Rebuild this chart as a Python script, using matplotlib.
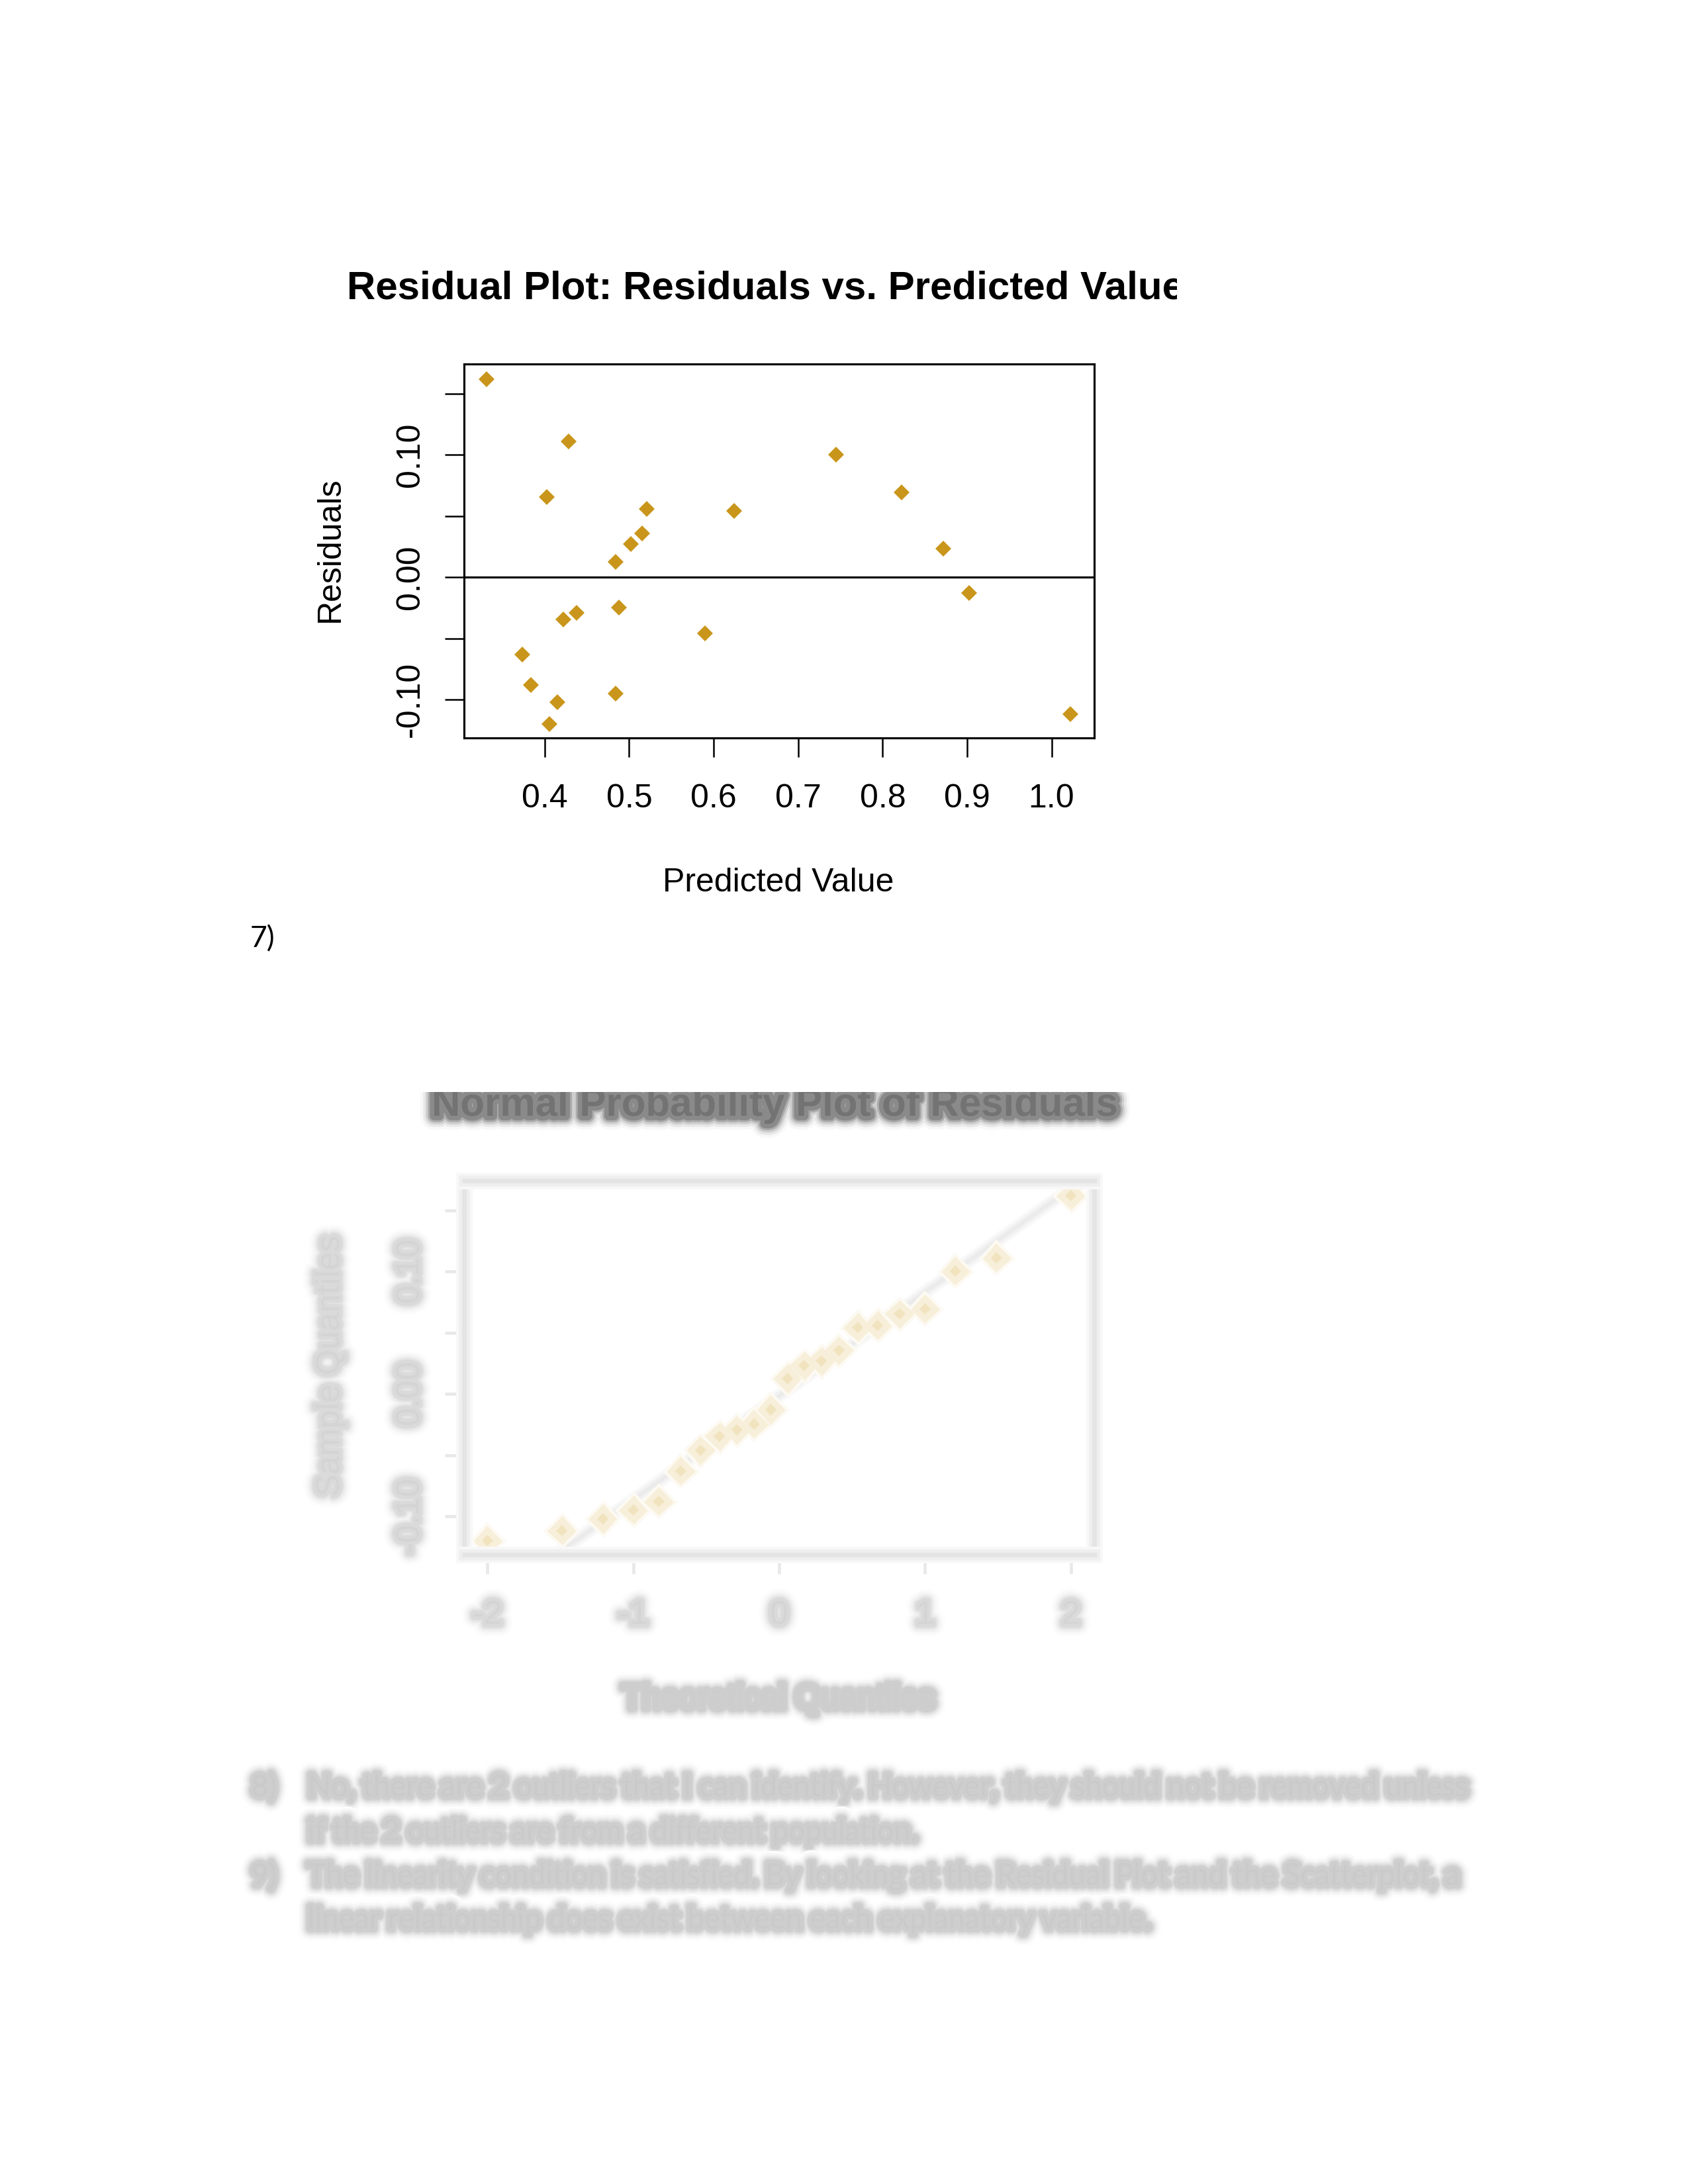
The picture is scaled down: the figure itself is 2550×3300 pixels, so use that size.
import numpy as np
import matplotlib
matplotlib.use("Agg")
import matplotlib.pyplot as plt
import matplotlib.patheffects as pe
from matplotlib.transforms import Bbox, TransformedBbox

# ---------------- data ----------------
predicted = [0.3315, 0.4285, 0.4027, 0.7450, 0.8222, 0.5210, 0.6243, 0.5156,
             0.5020, 0.4838, 0.8719, 0.9027, 0.4877, 0.4381, 0.4222, 0.5900,
             0.3736, 0.3835, 0.4838, 0.4150, 0.4057, 1.0223]
residuals = [0.1618, 0.1112, 0.0653, 0.1002, 0.0694, 0.0560, 0.0543, 0.0357,
             0.0271, 0.0126, 0.0233, -0.0128, -0.0246, -0.0293, -0.0345, -0.0459,
             -0.0630, -0.0878, -0.0948, -0.1020, -0.1196, -0.1116]
theoretical_q = [-2.000, -1.489, -1.208, -0.999, -0.826, -0.674, -0.538, -0.410,
                 -0.289, -0.172, -0.057, 0.057, 0.172, 0.289, 0.410, 0.538,
                 0.674, 0.826, 0.999, 1.208, 1.489, 2.000]
x_ticks = [0.4, 0.5, 0.6, 0.7, 0.8, 0.9, 1.0]
x_ticklabels = ["0.4", "0.5", "0.6", "0.7", "0.8", "0.9", "1.0"]
y_ticks = [-0.10, -0.05, 0.00, 0.05, 0.10, 0.15]
y_ticklabels = ["-0.10", "", "0.00", "", "0.10", ""]
qq_xticks = [-2, -1, 0, 1, 2]
qq_xticklabels = ["-2", "-1", "0", "1", "2"]

title1 = "Residual Plot: Residuals vs. Predicted Value"
title2 = "Normal Probability Plot of Residuals"
body_lines = [
    ("8)", "No, there are 2 outliers that I can identify. However, they should not be removed unless"),
    ("", "if the 2 outliers are from a different population."),
    ("9)", "The linearity condition is satisfied. By looking at the Residual Plot and the Scatterplot, a"),
    ("", "linear relationship does exist between each explanatory variable."),
]

# ---------------- page ----------------
W, H = 2550, 3300
DPI = 300
fig = plt.figure(figsize=(W / DPI, H / DPI), dpi=DPI)
fig.patch.set_facecolor("white")
plt.rcParams["font.family"] = ["Liberation Sans", "DejaVu Sans"]

def fx(px):
    return px / W

def fy(py):
    return 1 - py / H

GOLD = "#C9961B"
ax_left, ax_right = 701, 1653
ax_top, ax_bot = 550, 1115
ylim = (-0.1312, 0.1742)
xlim = (0.3045, 1.0505)

# ---------------- residual plot ----------------
ax = fig.add_axes([fx(ax_left), fy(ax_bot), fx(ax_right - ax_left), (ax_bot - ax_top) / H])
ax.plot(predicted, residuals, linestyle="none", marker="D", markersize=4.1,
        color=GOLD, markeredgewidth=0)
ax.axhline(0, color="black", linewidth=0.75)
ax.set_xlim(*xlim)
ax.set_ylim(*ylim)
for s in ax.spines.values():
    s.set_linewidth(0.75)
ax.set_xticks(x_ticks, x_ticklabels)
ax.set_yticks(y_ticks, y_ticklabels, rotation=90, va="center")
ax.tick_params(axis="both", direction="out", length=7, width=0.6, labelsize=12,
               colors="black")
ax.tick_params(axis="x", pad=9.5)
ax.tick_params(axis="y", pad=7)
ax.set_xlabel("Predicted Value", fontsize=12)
ax.set_ylabel("Residuals", fontsize=12)
ax.xaxis.label.set_va("baseline")
ax.yaxis.label.set_va("baseline")
ax.xaxis.set_label_coords((1176 - ax_left) / (ax_right - ax_left), (ax_bot - 1347) / (ax_bot - ax_top))
ax.yaxis.set_label_coords((512 - ax_left) / (ax_right - ax_left), (ax_bot - 830) / (ax_bot - ax_top))

t1 = fig.text(fx(524), fy(452), title1, fontsize=14.4, fontweight="bold",
              ha="left", va="baseline", color="black")
t1.set_clip_box(TransformedBbox(Bbox([[0, 0], [fx(1778), 1]]), fig.transFigure))
t1.set_clip_on(True)

fig.text(fx(378), fy(1431), "7)", fontsize=10.7, family=["Lato", "DejaVu Sans"],
         ha="left", va="baseline", color="black")

# ---------------- blur helpers (layered soft strokes) ----------------
def blur_fx(widths, colors):
    return [pe.Stroke(linewidth=w, foreground=c) for w, c in zip(widths, colors)] + [pe.Normal()]

body_fx = blur_fx([9, 7.5, 6.0, 4.8, 3.6, 2.6],
                  ["#fdfdfd", "#f7f7f7", "#efefef", "#e4e4e4", "#d8d8d8", "#cecece"])
faint_fx = blur_fx([9, 7.5, 6.0, 4.6, 3.4, 2.4],
                   ["#fdfdfd", "#f9f9f9", "#f3f3f3", "#ebebeb", "#e2e2e2", "#dadada"])
dark_fx = blur_fx([10, 8, 6.2, 4.6, 3.2],
                  ["#f8f8f8", "#e8e8e8", "#cfcfcf", "#acacac", "#8a8a8a"])

# ---------------- blurred normal probability plot ----------------
off = 1234
ax2 = fig.add_axes([fx(ax_left), fy(ax_bot + off), fx(ax_right - ax_left), (ax_bot - ax_top) / H])
sample_q = np.sort(np.array(residuals))
q1, q3 = np.quantile(sample_q, [0.25, 0.75])
z1, z3 = -0.6745, 0.6745
slope = (q3 - q1) / (z3 - z1)
inter = q1 - slope * z1
ax2.axline((0, inter), slope=slope, color="#ebebeb", linewidth=1.4,
           path_effects=blur_fx([5, 3.2], ["#f9f9f9", "#f2f2f2"]))
ax2.plot(theoretical_q, sample_q, linestyle="none", marker="D", markersize=2.9,
         color="#f0e3be", markeredgewidth=0,
         path_effects=blur_fx([6.5, 4.5], ["#fdfaf3", "#f7efd9"]))
ax2.set_xlim(-2.16, 2.16)
ax2.set_ylim(*ylim)
for s in ax2.spines.values():
    s.set_linewidth(1.6)
    s.set_edgecolor("#e4e4e4")
    s.set_path_effects(blur_fx([6, 4], ["#f8f8f8", "#efefef"]))
ax2.set_xticks(qq_xticks, qq_xticklabels)
ax2.set_yticks(y_ticks, y_ticklabels, rotation=90, va="center")
ax2.tick_params(axis="both", direction="out", length=7, width=1.1, labelsize=12,
                color="#e8e8e8", labelcolor="#d4d4d4")
ax2.tick_params(axis="x", pad=9.5)
ax2.tick_params(axis="y", pad=7)
for lab in ax2.get_xticklabels() + ax2.get_yticklabels():
    lab.set_path_effects(faint_fx)
ax2.set_xlabel("Theoretical Quantiles", fontsize=12, color="#cdcdcd")
ax2.set_ylabel("Sample Quantiles", fontsize=12, color="#d4d4d4")
ax2.xaxis.label.set_va("baseline")
ax2.yaxis.label.set_va("baseline")
ax2.xaxis.label.set_path_effects(body_fx)
ax2.yaxis.label.set_path_effects(faint_fx)
ax2.xaxis.set_label_coords((1176 - ax_left) / (ax_right - ax_left), (ax_bot - 1347) / (ax_bot - ax_top))
ax2.yaxis.set_label_coords((512 - ax_left) / (ax_right - ax_left), (ax_bot - 830) / (ax_bot - ax_top))

t2 = fig.text(fx(1171), fy(452 + off), title2, fontsize=14.4, fontweight="bold",
              ha="center", va="baseline", color="#737373", path_effects=dark_fx)
t2.set_clip_box(TransformedBbox(Bbox([[0, 0], [1, fy(1650)]]), fig.transFigure))
t2.set_clip_on(True)

# ---------------- blurred answer text ----------------
renderer = fig.canvas.get_renderer()
baselines = [2714, 2781, 2848, 2914]
ends = [2215, 1384, 2202, 1736]
text_x = 465
for (num, line), base, end in zip(body_lines, baselines, ends):
    if num:
        fig.text(fx(380), fy(base), num, fontsize=10.7, family=["Lato", "DejaVu Sans"],
                 ha="left", va="baseline", color="#cacaca", path_effects=body_fx)
    t = fig.text(fx(text_x), fy(base), line, fontsize=10.7, family=["Lato", "DejaVu Sans"],
                 ha="left", va="baseline", color="#cacaca", path_effects=body_fx)
    wpx = t.get_window_extent(renderer=renderer).width
    t.set_fontsize(10.7 * (end - text_x) / wpx)

fig.savefig("out.png", dpi=DPI, facecolor="white")
